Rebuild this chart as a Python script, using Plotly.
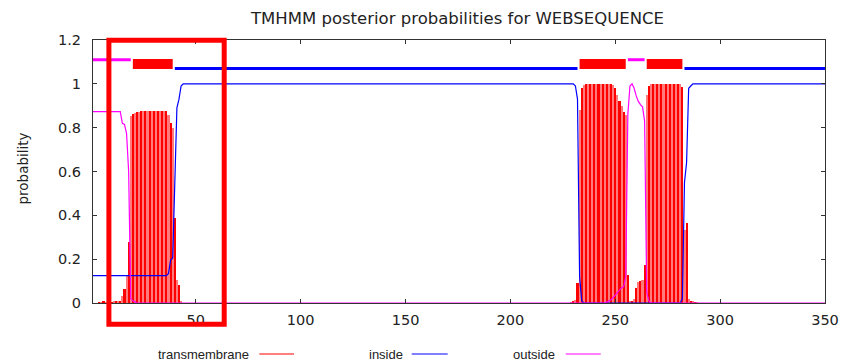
import plotly.graph_objects as go

# ---------------- data ----------------
title_text = "TMHMM posterior probabilities for WEBSEQUENCE"
y_label = "probability"
legend_names = ["transmembrane", "inside", "outside"]

x_ticks = [50, 100, 150, 200, 250, 300, 350]
y_ticks = [0, 0.2, 0.4, 0.6, 0.8, 1.0, 1.2]
y_tick_labels = ["0", "0.2", "0.4", "0.6", "0.8", "1", "1.2"]

# predicted topology
seg_start = [1, 20, 40, 233, 256, 265, 283]
seg_end = [19, 39, 232, 255, 264, 282, 350]
seg_type = ["outside", "TMhelix", "inside", "TMhelix", "outside", "TMhelix", "inside"]

# posterior probability of transmembrane (impulses)
tm_pos = [4, 5, 6, 7, 8, 9, 10, 11, 12, 13, 14, 15, 16, 17, 18, 19, 20, 21, 22, 23,
          24, 25, 26, 27, 28, 29, 30, 31, 32, 33, 34, 35, 36, 37, 38, 39, 40, 41, 42, 43,
          229, 230, 231, 232, 233, 234, 235, 236, 237, 238, 239, 240, 241, 242, 243, 244,
          245, 246, 247, 248, 249, 250, 251, 252, 253, 254, 255, 256, 257, 258, 259, 260,
          261, 262, 263, 264, 265, 266, 267, 268, 269, 270, 271, 272, 273, 274, 275, 276,
          277, 278, 279, 280, 281, 282, 283, 284, 285, 286, 287, 288, 289]
tm_prob = [0.004, 0.004, 0.005, 0.004, 0.005, 0.005, 0.004, 0.005, 0.005, 0.006, 0.008, 0.03,
           0.064, 0.125, 0.28, 0.855, 0.862, 0.866, 0.870, 0.873,
           0.875, 0.877, 0.877, 0.878, 0.878, 0.878, 0.877, 0.877, 0.876, 0.876, 0.876, 0.875,
           0.874, 0.86, 0.82, 0.797, 0.39, 0.105, 0.082, 0.01,
           0.003, 0.005, 0.014, 0.09, 0.88, 0.98, 0.995, 1.0, 1.0, 1.0, 1.0, 1.0, 1.0, 1.0, 1.0, 1.0,
           1.0, 1.0, 1.0, 1.0, 0.995, 0.98, 0.95, 0.92, 0.90, 0.87, 0.86, 0.13, 0.01, 0.005, 0.02, 0.07,
           0.097, 0.1, 0.105, 0.173, 0.95, 0.99, 1.0, 1.0, 1.0, 1.0, 1.0, 1.0, 1.0, 1.0, 1.0, 1.0,
           1.0, 1.0, 1.0, 1.0, 1.0, 0.987, 0.333, 0.364, 0.02, 0.008, 0.005, 0.004, 0.003]

# posterior probability of inside
inside_pos = [1, 36, 37, 38, 39, 40, 41, 42, 43, 44, 230, 231, 232, 233, 234, 235,
              281, 282, 283, 284, 285, 286, 287, 350]
inside_prob = [0.125, 0.125, 0.135, 0.196, 0.205, 0.6, 0.89, 0.93, 0.99, 1.0, 1.0, 0.99, 0.93, 0.12, 0.01, 0.0,
               0.0, 0.02, 0.55, 0.64, 0.98, 0.99, 1.0, 1.0]

# posterior probability of outside
outside_pos = [1, 14, 15, 16, 17, 18, 19, 20, 21, 22, 245, 246, 247, 248, 249, 250, 251, 252, 253,
               254, 255, 256, 257, 258, 259, 260, 261, 262, 263, 264, 265, 266, 267, 350]
outside_prob = [0.873, 0.873, 0.82, 0.815, 0.774, 0.6, 0.02, 0.01, 0.005, 0.0, 0.0, 0.005, 0.01, 0.015,
                0.025, 0.036, 0.05, 0.06, 0.07, 0.074, 0.12, 0.86, 0.99, 1.0, 0.98, 0.945, 0.92, 0.905,
                0.895, 0.83, 0.05, 0.01, 0.0, 0.0]

# ---------------- style ----------------
C_TM, C_IN, C_OUT = "#ff0000", "#0000ff", "#ff00ff"
C_TM_LIGHT = "#ff7a7a"
level = {"outside": 1.11, "TMhelix": 1.09, "inside": 1.07}
seg_color = {"outside": C_OUT, "TMhelix": C_TM, "inside": C_IN}
seg_width = {"outside": 3, "TMhelix": 10, "inside": 3}
TXT = "#222222"
FONT = "DejaVu Sans"

W, H = 858, 364
ML, MR, MT, MB = 93, 33, 40, 61
PW, PH = W - ML - MR, H - MT - MB


def px2paper_x(px):
    return (px - ML) / PW


def px2paper_y(py):
    return (H - MB - py) / PH


# impulses rendered with alternating shades (mimics the anti-aliased gnuplot impulses)
bar_colors = [C_TM if p % 2 == 0 else C_TM_LIGHT for p in tm_pos]

fig = go.Figure()
fig.add_trace(go.Bar(x=tm_pos, y=tm_prob, width=1.0,
                     marker=dict(color=bar_colors, line=dict(width=0)), showlegend=False))
fig.add_trace(go.Scatter(x=inside_pos, y=inside_prob, mode="lines",
                         line=dict(color=C_IN, width=1.2), showlegend=False))
fig.add_trace(go.Scatter(x=outside_pos, y=outside_prob, mode="lines",
                         line=dict(color=C_OUT, width=1.2), showlegend=False))
for s, e, t in zip(seg_start, seg_end, seg_type):
    fig.add_trace(go.Scatter(x=[s, e], y=[level[t], level[t]], mode="lines",
                             line=dict(color=seg_color[t], width=seg_width[t]),
                             showlegend=False, hoverinfo="skip"))

# legend drawn as text followed by a line sample (gnuplot style)
leg_text_right = [250.7, 405.0, 557.3]
leg_line = [(259.3, 294.0), (411.7, 447.7), (565.7, 600.7)]
leg_colors = [C_TM, C_IN, C_OUT]
leg_y = px2paper_y(354)
annotations = []
shapes = []
for name, xr, (l0, l1), col in zip(legend_names, leg_text_right, leg_line, leg_colors):
    annotations.append(dict(text=name, x=px2paper_x(xr), y=leg_y, xref="paper", yref="paper",
                            xanchor="right", yanchor="middle", showarrow=False,
                            font=dict(family="Liberation Sans", size=13, color=TXT)))
    shapes.append(dict(type="line", xref="paper", yref="paper", x0=px2paper_x(l0), x1=px2paper_x(l1),
                       y0=leg_y, y1=leg_y, line=dict(color=col, width=1.2)))

annotations.append(dict(text=y_label, textangle=-90, x=px2paper_x(22.5), y=px2paper_y(169),
                        xref="paper", yref="paper", xanchor="center", yanchor="middle",
                        showarrow=False, font=dict(family=FONT, size=13.5, color=TXT)))

# highlight box
shapes.append(dict(type="rect", xref="paper", yref="paper",
                   x0=px2paper_x(108.9), x1=px2paper_x(224.2),
                   y0=px2paper_y(324.2), y1=px2paper_y(40.2),
                   line=dict(color="#ff0000", width=5), layer="above"))

fig.update_layout(
    width=W, height=H,
    margin=dict(l=ML, r=MR, t=MT, b=MB, pad=0),
    paper_bgcolor="white", plot_bgcolor="white",
    title=dict(text=title_text, x=px2paper_x(457.5), xref="paper", xanchor="center",
               y=1 - 18 / H, yref="container", yanchor="middle",
               font=dict(family=FONT, size=16.5, color=TXT)),
    showlegend=False,
    bargap=0,
    annotations=annotations,
    shapes=shapes,
)
axis_common = dict(showgrid=False, zeroline=False, showline=True, linecolor="#333333", linewidth=1,
                   mirror="ticks", ticks="inside", ticklen=4, tickcolor="#333333", tickwidth=1,
                   tickfont=dict(family=FONT, size=14.5, color=TXT))
fig.update_xaxes(range=[1, 350], tickmode="array", tickvals=x_ticks, ticklabelstandoff=4, **axis_common)
fig.update_yaxes(range=[0, 1.2], tickmode="array", tickvals=y_ticks, ticktext=y_tick_labels,
                 ticklabelstandoff=8, **axis_common)

# remove the browser's default page margin so the figure sits at the window origin
fig.write_html("out.html", config={"displayModeBar": False},
               post_script="document.body.style.margin='0';document.body.style.padding='0';")
